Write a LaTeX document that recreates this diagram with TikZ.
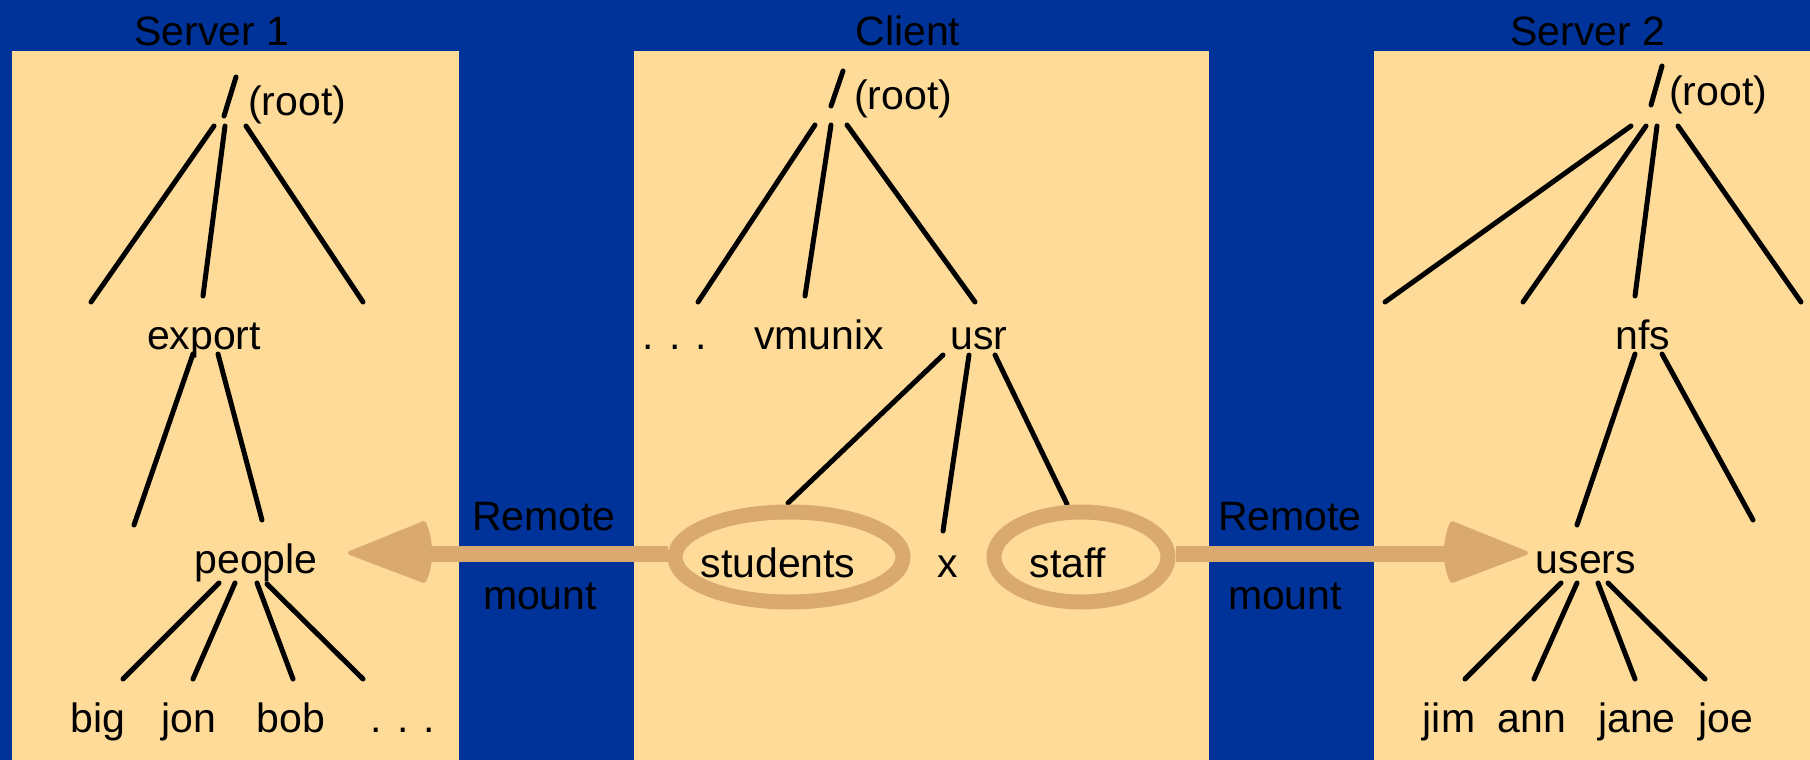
\documentclass[tikz,border=0pt]{standalone}
\usepackage{fontspec}
\setmainfont{Liberation Sans}
\usetikzlibrary{shapes.geometric}
\definecolor{bgblue}{RGB}{0,51,153}
\definecolor{panelc}{RGB}{255,219,153}
\definecolor{mountc}{RGB}{218,169,112}
\newcommand{\treeln}[3]{\coordinate (#1-a) at (#2); \coordinate (#1-b) at (#3); \draw[treeline] (#1-a) -- (#1-b);}
\begin{document}
\begin{tikzpicture}[x=1pt,y=-1pt,
  treeline/.style={line width=5pt, line cap=round, black},
  lbl/.style={anchor=base, inner sep=0pt, font=\fontsize{41}{49}\selectfont},
  lblw/.style={anchor=base west, inner sep=0pt, font=\fontsize{41}{49}\selectfont},
  panelbox/.style={fill=panelc, draw=none, anchor=north west, inner sep=0pt},
  ring/.style={ellipse, draw=mountc, line width=15pt, inner sep=0pt},
  shaft/.style={draw=mountc, line width=16pt},
  head/.style={fill=mountc, draw=mountc, line width=4pt, line join=round}]
\fill[bgblue] (0,0) rectangle (1810,760);
\useasboundingbox (0,0) rectangle (1810,760);
% panels
\node[panelbox, minimum width=447pt, minimum height=709pt] (p1) at (12,51) {};
\node[panelbox, minimum width=575pt, minimum height=709pt] (pc) at (634,51) {};
\node[panelbox, minimum width=436pt, minimum height=709pt] (p2) at (1374,51) {};
% titles
\node[lbl] (t1) at (212,46) {Server 1};
\node[lbl] (tc) at (908,46) {Client};
\node[lbl] (t2) at (1588,46) {Server 2};
% ---------- Server 1 ----------
\treeln{s1sl}{236,77}{224,116}
\node[lblw] (s1root) at (248,115) {(root)};
\treeln{s1a}{214,126}{91,302}
\treeln{s1b}{225,126}{203,296}
\treeln{s1c}{246,126}{363,302}
\node[lbl] (export) at (204,349) {export};
\treeln{s1d}{193,354}{134,525}
\treeln{s1e}{218,354}{262,520}
\node[lbl] (people) at (256,573) {people};
\treeln{s1f}{219,583}{123,679}
\treeln{s1g}{235,583}{193,679}
\treeln{s1h}{257,583}{293,679}
\treeln{s1i}{267,584}{363,679}
\node[lbl] (big) at (98,732) {big};
\node[lbl] (jon) at (189,732) {jon};
\node[lbl] (bob) at (291,732) {bob};
\node[lbl] (s1dots) at (403,732) {. . .};
% ---------- Client ----------
\treeln{csl}{843,71}{831,106}
\node[lblw] (croot) at (854,110) {(root)};
\treeln{ca}{815,125}{698,302}
\treeln{cb}{831,125}{805,296}
\treeln{cc}{847,125}{975,302}
\node[lbl] (cdots) at (675,349) {. . .};
\node[lbl] (vmunix) at (819,349) {vmunix};
\node[lbl] (usr) at (979,349) {usr};
\treeln{cd}{943,355}{788,503}
\treeln{ce}{969,355}{943,531}
\treeln{cf}{995,355}{1067,504}
\node[ring, minimum width=228pt, minimum height=90pt] (stuell) at (789,557) {};
\node[ring, minimum width=174pt, minimum height=90pt] (staffell) at (1081,557) {};
\node[lbl] (students) at (778,577) {students};
\node[lbl] (x) at (948,577) {x};
\node[lbl] (staff) at (1068,577) {staff};
% ---------- Server 2 ----------
\treeln{s2sl}{1662,66}{1651,105}
\node[lblw] (s2root) at (1669,105) {(root)};
\treeln{s2a}{1631,126}{1385,302}
\treeln{s2b}{1646,126}{1523,302}
\treeln{s2c}{1657,126}{1635,296}
\treeln{s2d}{1678,126}{1801,302}
\node[lbl] (nfs) at (1643,349) {nfs};
\treeln{s2e}{1635,354}{1577,525}
\treeln{s2f}{1662,354}{1753,520}
\node[lbl] (users) at (1586,573) {users};
\treeln{s2g}{1561,583}{1465,679}
\treeln{s2h}{1577,583}{1534,679}
\treeln{s2i}{1598,583}{1635,679}
\treeln{s2j}{1608,583}{1705,679}
\node[lbl] (jim) at (1449,732) {jim};
\node[lbl] (ann) at (1532,732) {ann};
\node[lbl] (jane) at (1637,732) {jane};
\node[lbl] (joe) at (1726,732) {joe};
% ---------- Remote mount arrows ----------
\coordinate (lhead) at (426,554);
\coordinate (ltip) at (350,553);
\draw[shaft] (stuell.west |- lhead) -- (lhead);
\path[head] (ltip) -- (424,523) .. controls (432,540) and (432,566) .. (424,581) -- cycle;
\coordinate (rhead) at (1450,554);
\coordinate (rtip) at (1526,553);
\draw[shaft] (staffell.east |- rhead) -- (rhead);
\path[head] (rtip) -- (1452,523) .. controls (1444,540) and (1444,566) .. (1452,581) -- cycle;
\node[lbl] (rem1) at (544,530) {Remote};
\node[lbl] (mnt1) at (540,609) {mount};
\node[lbl] (rem2) at (1290,530) {Remote};
\node[lbl] (mnt2) at (1285,609) {mount};
\end{tikzpicture}
\end{document}
